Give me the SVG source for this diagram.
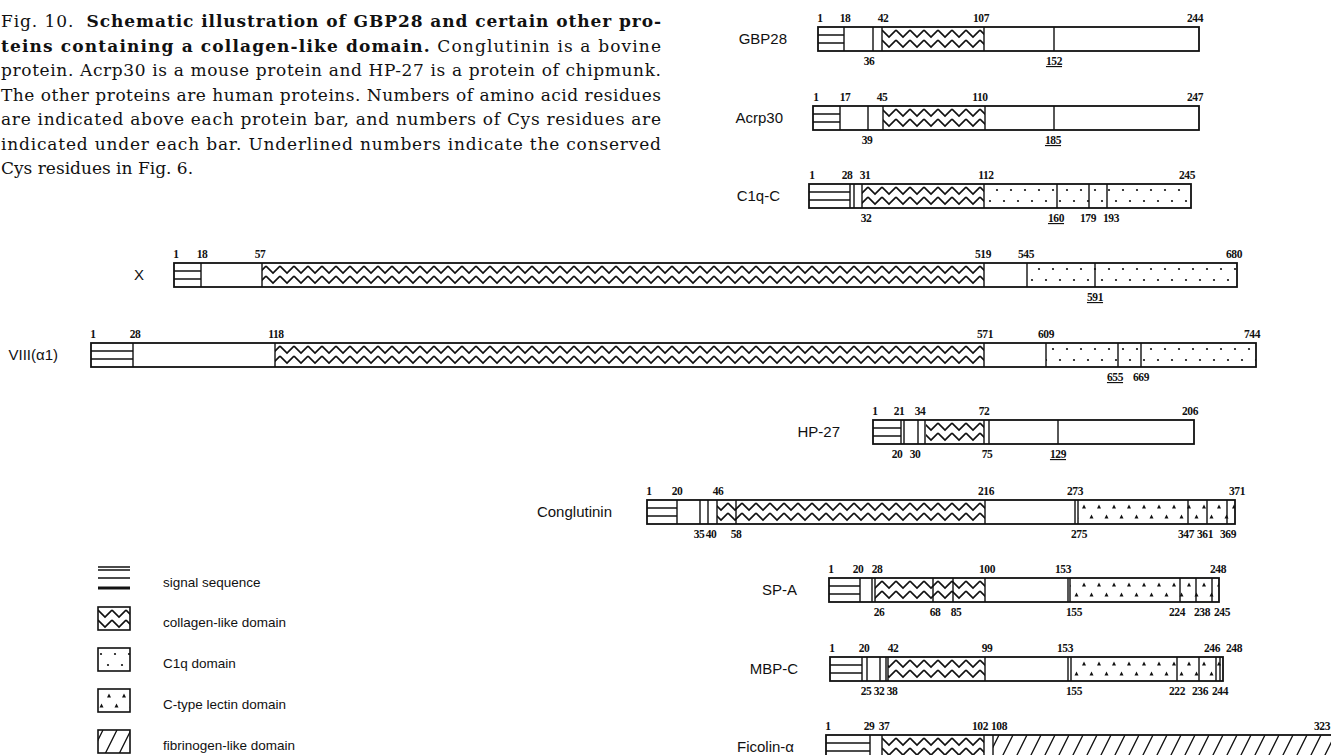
<svg xmlns="http://www.w3.org/2000/svg" width="1331" height="755" viewBox="0 0 1331 755">
<defs>
<style>
.cap{font-family:"DejaVu Serif","Liberation Serif",serif;font-size:17px;fill:#111}
.lbl{font-family:"Liberation Sans","DejaVu Sans",sans-serif;font-size:15px;fill:#111}
.n{font-family:"Liberation Serif",serif;font-size:11.5px;font-weight:bold;text-anchor:middle;fill:#111;letter-spacing:-0.4px}
.u{text-decoration:underline}
.bg{fill:#fff;stroke:none}
.ol{fill:none;stroke:#111;stroke-width:1.8}
.d{stroke:#111;stroke-width:1.4;fill:none}
.leg{font-family:"Liberation Sans","DejaVu Sans",sans-serif;font-size:13.5px;fill:#111}
</style>
<pattern id="sig" patternUnits="userSpaceOnUse" width="10" height="24"><rect width="10" height="24" fill="#fff"/><path d="M0,8H10M0,16H10" stroke="#111" stroke-width="1.6"/></pattern>
<pattern id="col" patternUnits="userSpaceOnUse" width="14" height="24"><rect width="14" height="24" fill="#fff"/><path d="M0,3L7,10L14,3M0,13L7,20L14,13" fill="none" stroke="#111" stroke-width="1.7"/></pattern>
<pattern id="c1q" patternUnits="userSpaceOnUse" width="14" height="24"><rect width="14" height="24" fill="#fff"/><circle cx="3" cy="6" r="1.1" fill="#111"/><circle cx="10" cy="17" r="1.1" fill="#111"/></pattern>
<pattern id="ctl" patternUnits="userSpaceOnUse" width="15" height="24"><rect width="15" height="24" fill="#fff"/><path d="M4,4.5L2,8.5H6ZM11.5,14.5L9.5,18.5H13.5Z" fill="#111"/></pattern>
<pattern id="fib" patternUnits="userSpaceOnUse" width="14" height="24"><rect width="14" height="24" fill="#fff"/><path d="M-7,24L5,0M7,24L19,0" stroke="#111" stroke-width="1.3"/></pattern>
</defs>
<rect width="1331" height="755" fill="#fff"/>

<g id="caption" class="cap">
<text x="1" y="27" textLength="660" lengthAdjust="spacing">Fig. 10. <tspan dx="6" font-weight="bold">Schematic illustration of GBP28 and certain other pro-</tspan></text>
<text x="1" y="51.5" textLength="660" lengthAdjust="spacing"><tspan font-weight="bold">teins containing a collagen-like domain.</tspan> Conglutinin is a bovine</text>
<text x="1" y="76" textLength="660" lengthAdjust="spacing">protein. Acrp30 is a mouse protein and HP-27 is a protein of chipmunk.</text>
<text x="1" y="100.5" textLength="660" lengthAdjust="spacing">The other proteins are human proteins. Numbers of amino acid residues</text>
<text x="1" y="125" textLength="660" lengthAdjust="spacing">are indicated above each protein bar, and numbers of Cys residues are</text>
<text x="1" y="149.5" textLength="660" lengthAdjust="spacing">indicated under each bar. Underlined numbers indicate the conserved</text>
<text x="1" y="174">Cys residues in Fig. 6.</text>
</g>

<g id="gbp28" transform="translate(0,27)">
<text class="lbl" x="787" y="17" text-anchor="end">GBP28</text>
<rect class="bg" x="818" y="0" width="381" height="24"/>
<rect x="818" y="0" width="26" height="24" fill="url(#sig)"/>
<rect x="882" y="0" width="102" height="24" fill="url(#col)"/>
<path class="d" d="M844,0V24M873,0V24M882,0V24M984,0V24M1054,0V24"/>
<rect class="ol" x="818" y="0" width="381" height="24"/>
<text class="n" y="-5"><tspan x="820">1</tspan><tspan x="845">18</tspan><tspan x="883">42</tspan><tspan x="981">107</tspan><tspan x="1195">244</tspan></text>
<text class="n" y="38"><tspan x="869">36</tspan><tspan x="1054" class="u">152</tspan></text>
</g>

<g id="acrp30" transform="translate(0,106)">
<text class="lbl" x="783" y="17" text-anchor="end">Acrp30</text>
<rect class="bg" x="813" y="0" width="386" height="24"/>
<rect x="813" y="0" width="27" height="24" fill="url(#sig)"/>
<rect x="883" y="0" width="102" height="24" fill="url(#col)"/>
<path class="d" d="M840,0V24M868,0V24M883,0V24M985,0V24M1054,0V24"/>
<rect class="ol" x="813" y="0" width="386" height="24"/>
<text class="n" y="-5"><tspan x="816">1</tspan><tspan x="845">17</tspan><tspan x="882">45</tspan><tspan x="980">110</tspan><tspan x="1195">247</tspan></text>
<text class="n" y="38"><tspan x="867">39</tspan><tspan x="1053" class="u">185</tspan></text>
</g>

<g id="c1q-c" transform="translate(0,184)">
<text class="lbl" x="780" y="17" text-anchor="end">C1q-C</text>
<rect class="bg" x="809" y="0" width="382" height="24"/>
<rect x="809" y="0" width="41" height="24" fill="url(#sig)"/>
<rect x="862" y="0" width="122" height="24" fill="url(#col)"/>
<rect x="984" y="0" width="207" height="24" fill="url(#c1q)"/>
<path class="d" d="M850,0V24M854,0V24M862,0V24M984,0V24M1057,0V24M1089,0V24M1107,0V24"/>
<rect class="ol" x="809" y="0" width="382" height="24"/>
<text class="n" y="-5"><tspan x="812">1</tspan><tspan x="847">28</tspan><tspan x="865">31</tspan><tspan x="986">112</tspan><tspan x="1187">245</tspan></text>
<text class="n" y="38"><tspan x="866">32</tspan><tspan x="1056" class="u">160</tspan><tspan x="1088">179</tspan><tspan x="1111">193</tspan></text>
</g>

<g id="x" transform="translate(0,263)">
<text class="lbl" x="139" y="17" text-anchor="middle">X</text>
<rect class="bg" x="174" y="0" width="1063" height="24"/>
<rect x="174" y="0" width="27" height="24" fill="url(#sig)"/>
<rect x="262" y="0" width="722" height="24" fill="url(#col)"/>
<rect x="1027" y="0" width="210" height="24" fill="url(#c1q)"/>
<path class="d" d="M201,0V24M262,0V24M984,0V24M1027,0V24M1095,0V24"/>
<rect class="ol" x="174" y="0" width="1063" height="24"/>
<text class="n" y="-5"><tspan x="176">1</tspan><tspan x="202">18</tspan><tspan x="260">57</tspan><tspan x="983">519</tspan><tspan x="1026">545</tspan><tspan x="1234">680</tspan></text>
<text class="n" y="38"><tspan x="1095" class="u">591</tspan></text>
</g>

<g id="viii" transform="translate(0,343)">
<text class="lbl" x="58" y="17" text-anchor="end">VIII(α1)</text>
<rect class="bg" x="91" y="0" width="1165" height="24"/>
<rect x="91" y="0" width="42" height="24" fill="url(#sig)"/>
<rect x="275" y="0" width="709" height="24" fill="url(#col)"/>
<rect x="1046" y="0" width="210" height="24" fill="url(#c1q)"/>
<path class="d" d="M133,0V24M275,0V24M984,0V24M1046,0V24M1118,0V24M1141,0V24"/>
<rect class="ol" x="91" y="0" width="1165" height="24"/>
<text class="n" y="-5"><tspan x="93">1</tspan><tspan x="135">28</tspan><tspan x="276">118</tspan><tspan x="985">571</tspan><tspan x="1046">609</tspan><tspan x="1252">744</tspan></text>
<text class="n" y="38"><tspan x="1115" class="u">655</tspan><tspan x="1141">669</tspan></text>
</g>

<g id="hp27" transform="translate(0,420)">
<text class="lbl" x="840" y="17" text-anchor="end">HP-27</text>
<rect class="bg" x="873" y="0" width="321" height="24"/>
<rect x="873" y="0" width="28" height="24" fill="url(#sig)"/>
<rect x="926" y="0" width="58" height="24" fill="url(#col)"/>
<path class="d" d="M901,0V24M904,0V24M918,0V24M925,0V24M984,0V24M989,0V24M1058,0V24"/>
<rect class="ol" x="873" y="0" width="321" height="24"/>
<text class="n" y="-5"><tspan x="875">1</tspan><tspan x="899">21</tspan><tspan x="920">34</tspan><tspan x="984">72</tspan><tspan x="1190">206</tspan></text>
<text class="n" y="38"><tspan x="897">20</tspan><tspan x="915">30</tspan><tspan x="987">75</tspan><tspan x="1058" class="u">129</tspan></text>
</g>

<g id="conglutinin" transform="translate(0,500)">
<text class="lbl" x="612" y="17" text-anchor="end">Conglutinin</text>
<rect class="bg" x="647" y="0" width="588" height="24"/>
<rect x="647" y="0" width="30" height="24" fill="url(#sig)"/>
<rect x="717" y="0" width="268" height="24" fill="url(#col)"/>
<rect x="1078" y="0" width="157" height="24" fill="url(#ctl)"/>
<path class="d" d="M677,0V24M700,0V24M708,0V24M717,0V24M736,0V24M985,0V24M1075,0V24M1078,0V24M1188,0V24M1207,0V24M1227,0V24"/>
<rect class="ol" x="647" y="0" width="588" height="24"/>
<text class="n" y="-5"><tspan x="649">1</tspan><tspan x="677">20</tspan><tspan x="718">46</tspan><tspan x="986">216</tspan><tspan x="1075">273</tspan><tspan x="1237">371</tspan></text>
<text class="n" y="38"><tspan x="699">35</tspan><tspan x="711">40</tspan><tspan x="736">58</tspan><tspan x="1079">275</tspan><tspan x="1186">347</tspan><tspan x="1205">361</tspan><tspan x="1228">369</tspan></text>
</g>

<g id="sp-a" transform="translate(0,578)">
<text class="lbl" x="797" y="17" text-anchor="end">SP-A</text>
<rect class="bg" x="829" y="0" width="390" height="24"/>
<rect x="829" y="0" width="31" height="24" fill="url(#sig)"/>
<rect x="875" y="0" width="110" height="24" fill="url(#col)"/>
<rect x="1070" y="0" width="149" height="24" fill="url(#ctl)"/>
<path class="d" d="M860,0V24M872,0V24M875,0V24M933,0V24M953,0V24M985,0V24M1068,0V24M1070,0V24M1180,0V24M1196,0V24M1212,0V24"/>
<rect class="ol" x="829" y="0" width="390" height="24"/>
<text class="n" y="-5"><tspan x="831">1</tspan><tspan x="858">20</tspan><tspan x="877">28</tspan><tspan x="987">100</tspan><tspan x="1063">153</tspan><tspan x="1218">248</tspan></text>
<text class="n" y="38"><tspan x="879">26</tspan><tspan x="935">68</tspan><tspan x="956">85</tspan><tspan x="1074">155</tspan><tspan x="1177">224</tspan><tspan x="1202">238</tspan><tspan x="1222">245</tspan></text>
</g>

<g id="mbp-c" transform="translate(0,657)">
<text class="lbl" x="798" y="17" text-anchor="end">MBP-C</text>
<rect class="bg" x="830" y="0" width="393" height="24"/>
<rect x="830" y="0" width="32" height="24" fill="url(#sig)"/>
<rect x="888" y="0" width="97" height="24" fill="url(#col)"/>
<rect x="1071" y="0" width="152" height="24" fill="url(#ctl)"/>
<path class="d" d="M862,0V24M867,0V24M880,0V24M886,0V24M888,0V24M985,0V24M1068,0V24M1071,0V24M1177,0V24M1199,0V24M1216,0V24M1220,0V24"/>
<rect class="ol" x="830" y="0" width="393" height="24"/>
<text class="n" y="-5"><tspan x="832">1</tspan><tspan x="864">20</tspan><tspan x="893">42</tspan><tspan x="987">99</tspan><tspan x="1065">153</tspan><tspan x="1212">246</tspan><tspan x="1234">248</tspan></text>
<text class="n" y="38"><tspan x="866">25</tspan><tspan x="879">32</tspan><tspan x="892">38</tspan><tspan x="1074">155</tspan><tspan x="1177">222</tspan><tspan x="1200">236</tspan><tspan x="1220">244</tspan></text>
</g>

<g id="ficolin" transform="translate(0,735)">
<text class="lbl" x="794" y="17" text-anchor="end">Ficolin-α</text>
<rect class="bg" x="826" y="0" width="514" height="24"/>
<rect x="826" y="0" width="44" height="24" fill="url(#sig)"/>
<rect x="882" y="0" width="102" height="24" fill="url(#col)"/>
<rect x="993" y="0" width="347" height="24" fill="url(#fib)"/>
<path class="d" d="M870,0V24M882,0V24M984,0V24M993,0V24"/>
<rect class="ol" x="826" y="0" width="514" height="24"/>
<text class="n" y="-5"><tspan x="828">1</tspan><tspan x="869">29</tspan><tspan x="884">37</tspan><tspan x="980">102</tspan><tspan x="999">108</tspan><tspan x="1322">323</tspan></text>
</g>

<g id="legend">
<g transform="translate(0,566)">
<path d="M98,1H130M98,4H130M98,12H130" stroke="#111" stroke-width="1.5"/>
<path d="M98,22H130" stroke="#111" stroke-width="3"/>
<text class="leg" x="163" y="21">signal sequence</text>
</g>
<g transform="translate(0,607)">
<rect x="98" y="0" width="32" height="23" fill="url(#col)" stroke="#111" stroke-width="1.6"/>
<text class="leg" x="163" y="20">collagen-like domain</text>
</g>
<g transform="translate(0,648)">
<rect x="98" y="0" width="32" height="23" fill="url(#c1q)" stroke="#111" stroke-width="1.6"/>
<text class="leg" x="163" y="20">C1q domain</text>
</g>
<g transform="translate(0,689)">
<rect x="98" y="0" width="32" height="23" fill="url(#ctl)" stroke="#111" stroke-width="1.6"/>
<text class="leg" x="163" y="20">C-type lectin domain</text>
</g>
<g transform="translate(0,730)">
<rect x="98" y="0" width="32" height="23" fill="url(#fib)" stroke="#111" stroke-width="1.6"/>
<text class="leg" x="163" y="20">fibrinogen-like domain</text>
</g>
</g>
</svg>
